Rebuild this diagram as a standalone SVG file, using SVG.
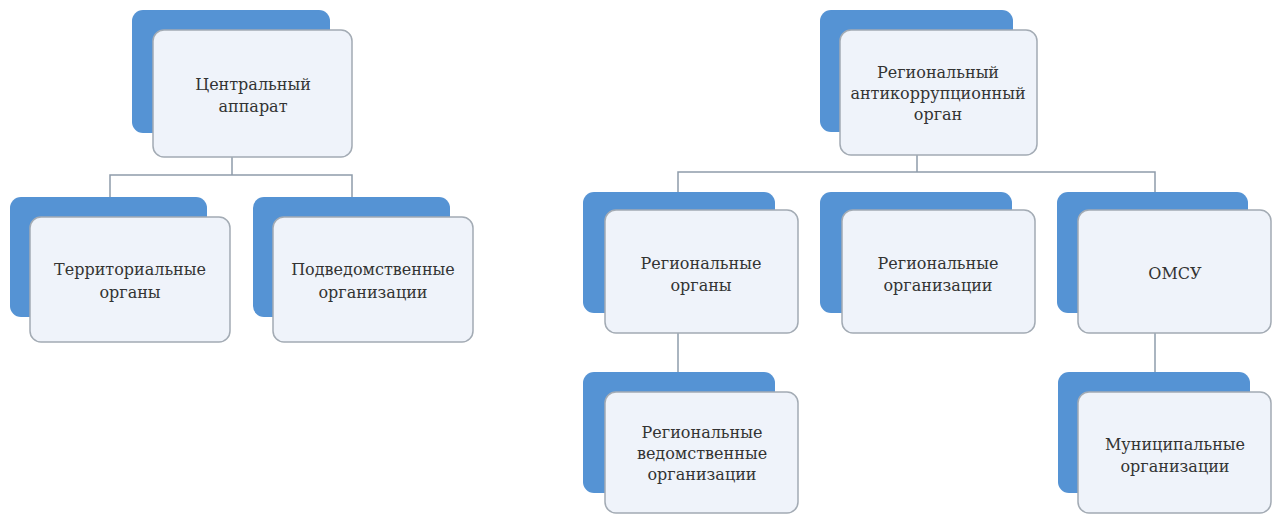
<svg xmlns="http://www.w3.org/2000/svg" width="1274" height="516" viewBox="0 0 1274 516">
<style>
.back{fill:#5593d4}
.front{fill:#eff3fa;stroke:#a3abb4;stroke-width:1.5}
.conn{fill:none;stroke:#8e9cab;stroke-width:1.5}
.t{font-family:'DejaVu Serif','Liberation Serif',serif;font-size:16px;fill:#333;text-anchor:middle}
</style>
<rect width="1274" height="516" fill="#ffffff"/>
<g id="connectors">
<path class="conn" d="M232 157V175M110 197V175H352V197"/>
<path class="conn" d="M917 155V172M678 192V172H1155V192"/>
<path class="conn" d="M678 333V372"/>
<path class="conn" d="M1155 333V372"/>
</g>
<g id="central">
<rect class="back" x="132" y="10" width="198" height="123" rx="11"/>
<rect class="front" x="153" y="30" width="199" height="127" rx="11"/>
<text class="t" x="253" y="90">Центральный</text>
<text class="t" x="253" y="112">аппарат</text>
</g>
<g id="territorial">
<rect class="back" x="10" y="197" width="197" height="120" rx="11"/>
<rect class="front" x="30" y="217" width="200" height="125" rx="11"/>
<text class="t" x="130" y="275">Территориальные</text>
<text class="t" x="130" y="298">органы</text>
</g>
<g id="subordinate">
<rect class="back" x="253" y="197" width="197" height="120" rx="11"/>
<rect class="front" x="273" y="217" width="200" height="125" rx="11"/>
<text class="t" x="373" y="275">Подведомственные</text>
<text class="t" x="373" y="298">организации</text>
</g>
<g id="regional-anticorruption">
<rect class="back" x="820" y="10" width="193" height="122" rx="11"/>
<rect class="front" x="840" y="30" width="197" height="125" rx="11"/>
<text class="t" x="938" y="78">Региональный</text>
<text class="t" x="938" y="99">антикоррупционный</text>
<text class="t" x="938" y="120">орган</text>
</g>
<g id="regional-bodies">
<rect class="back" x="583" y="192" width="192" height="121" rx="11"/>
<rect class="front" x="605" y="210" width="193" height="123" rx="11"/>
<text class="t" x="701" y="269">Региональные</text>
<text class="t" x="701" y="291">органы</text>
</g>
<g id="regional-orgs">
<rect class="back" x="820" y="192" width="192" height="121" rx="11"/>
<rect class="front" x="842" y="210" width="193" height="123" rx="11"/>
<text class="t" x="938" y="269">Региональные</text>
<text class="t" x="938" y="291">организации</text>
</g>
<g id="omsu">
<rect class="back" x="1057" y="192" width="191" height="121" rx="11"/>
<rect class="front" x="1078" y="210" width="193" height="123" rx="11"/>
<text class="t" x="1175" y="279">ОМСУ</text>
</g>
<g id="regional-departmental">
<rect class="back" x="583" y="372" width="192" height="121" rx="11"/>
<rect class="front" x="605" y="392" width="193" height="121" rx="11"/>
<text class="t" x="702" y="438">Региональные</text>
<text class="t" x="702" y="459">ведомственные</text>
<text class="t" x="702" y="480">организации</text>
</g>
<g id="municipal">
<rect class="back" x="1058" y="372" width="192" height="121" rx="11"/>
<rect class="front" x="1078" y="392" width="193" height="121" rx="11"/>
<text class="t" x="1175" y="450">Муниципальные</text>
<text class="t" x="1175" y="472">организации</text>
</g>
</svg>
